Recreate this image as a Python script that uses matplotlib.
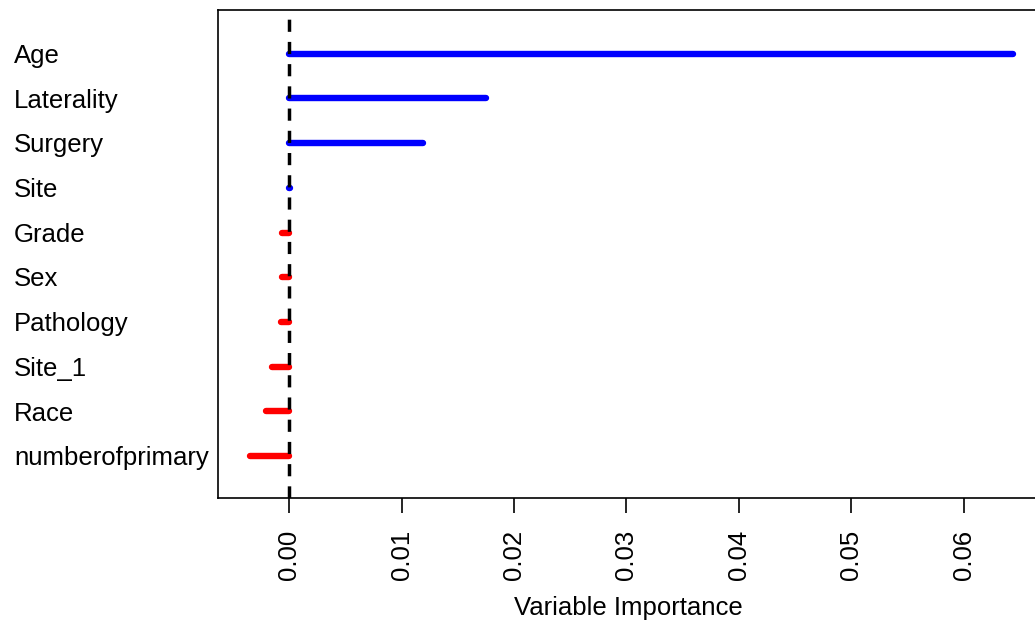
import matplotlib
matplotlib.use("Agg")
import matplotlib.pyplot as plt
import matplotlib.transforms as mtransforms

variables = ["Age", "Laterality", "Surgery", "Site", "Grade", "Sex",
             "Pathology", "Site_1", "Race", "numberofprimary"]
importance = [0.0644, 0.01753, 0.01187, 0.00003, -0.00065, -0.00065,
              -0.00077, -0.00157, -0.00205, -0.00352]
xticks = [0.00, 0.01, 0.02, 0.03, 0.04, 0.05, 0.06]
xticklabels = ["0.00", "0.01", "0.02", "0.03", "0.04", "0.05", "0.06"]

plt.rcParams['font.family'] = ['Liberation Sans', 'DejaVu Sans']
FS = 18.5

W, H = 1035, 623
fig = plt.figure(figsize=(W / 100, H / 100), dpi=100)
left_px, right_px, top_px, bot_px = 218, 1040, 10, 498
ax = fig.add_axes([left_px / W, 1 - bot_px / H, (right_px - left_px) / W, (bot_px - top_px) / H])

n = len(variables)
ypos = [n - i for i in range(n)]
for y, v in zip(ypos, importance):
    col = "#0000FF" if v > 0 else "#FF0000"
    ax.plot([0, v], [y, y], color=col, lw=4.6, solid_capstyle='round', zorder=2)

ax.axvline(0, color='black', lw=2.5, dashes=(3.5, 2.9), zorder=3)

ax.set_xlim(-0.00634, 0.06679)
ax.set_ylim(0.06, 10.98)
ax.set_yticks([])
ax.set_xticks(xticks)
ax.set_xticklabels(xticklabels, rotation=90, fontsize=FS)
ax.tick_params(axis='x', length=11, width=1.2, pad=12, colors='black')
for s in ax.spines.values():
    s.set_linewidth(1.2)

cap_in = 0.716 * FS / 72.0
trans = mtransforms.blended_transform_factory(fig.transFigure, ax.transData) + \
    mtransforms.ScaledTranslation(0, -cap_in / 2, fig.dpi_scale_trans)
for y, name in zip(ypos, variables):
    fig.text(14 / W, y, name, transform=trans, ha='left', va='baseline', fontsize=FS)

fig.text(628 / W, 1 - 608 / H, "Variable Importance", ha='center', va='center', fontsize=FS)

fig.savefig("out.png", dpi=100)
